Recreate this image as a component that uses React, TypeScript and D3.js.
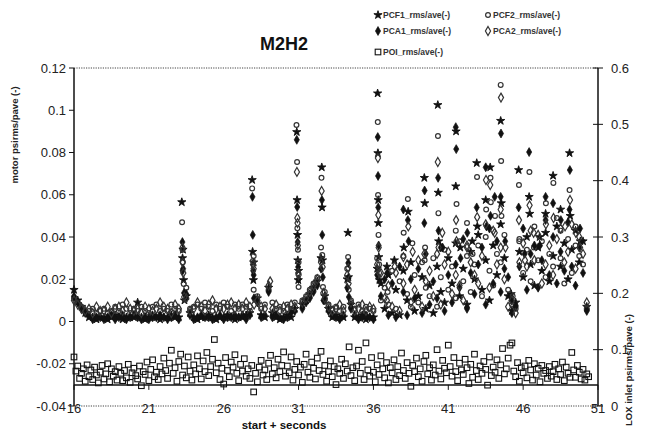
import React from 'react';
import * as d3 from 'd3';

// motor series sampled every 0.25 s from t = 16 s
const T0 = 16;
const DT = 0.25;

const pcf1Base = [
  .015, .010, .007, .004, // 16
  .002, .002, .001, .002, // 17
  .002, .001, .002, .003, // 18
  .002, .001, .002, .002, // 19
  .002, .009, .002, .001, // 20
  .002, .003, .002, .001, // 21
  .002, .002, .003, .002, // 22
  .002, .030, .012, .004, // 23
  .002, .001, .002, .002, // 24
  .003, .002, .001, .002, // 25
  .002, .003, .002, .001, // 26
  .002, .002, .003, .004, // 27
  .028, .011, .003, .002, // 28
  .016, .004, .002, .001, // 29
  .002, .003, .002, .006, // 30
  .024, .008, .010, .013, // 31
  .016, .019, .030, .012, // 32
  .006, .002, .003, .002, // 33
  .002, .020, .008, .002, // 34
  .002, .003, .001, .002, // 35
  .002, .025, .018, .006, // 36
  .022, .004, .015, .003, // 37
  .024, .010, .028, .005, // 38
  .012, .021, .006, .017, // 39
  .004, .026, .014, .009, // 40
  .030, .018, .037, .012, // 41
  .025, .008, .033, .020, // 42
  .041, .015, .029, .010, // 43
  .036, .022, .046, .030, // 44
  .012, .005, .009, .033, // 45
  .021, .040, .027, .017, // 46
  .035, .024, .042, .019, // 47
  .031, .045, .026, .037, // 48
  .020, .034, .043, .028, // 49
  .038, .007,             // 50
];

const pcf2Base = [
  .011, .009, .007, .005, // 16
  .005, .006, .004, .005, // 17
  .006, .004, .005, .007, // 18
  .005, .008, .006, .004, // 19
  .006, .005, .007, .005, // 20
  .004, .007, .008, .005, // 21
  .006, .005, .008, .006, // 22
  .005, .034, .016, .006, // 23
  .007, .008, .006, .009, // 24
  .007, .005, .008, .006, // 25
  .009, .007, .005, .008, // 26
  .006, .008, .007, .005, // 27
  .031, .012, .006, .008, // 28
  .015, .009, .006, .007, // 29
  .005, .008, .006, .009, // 30
  .028, .010, .012, .015, // 31
  .018, .021, .035, .014, // 32
  .008, .006, .007, .005, // 33
  .007, .025, .010, .006, // 34
  .008, .005, .007, .006, // 35
  .005, .030, .010, .016, // 36
  .008, .024, .006, .019, // 37
  .031, .013, .007, .022, // 38
  .009, .028, .016, .012, // 39
  .030, .007, .021, .034, // 40
  .015, .026, .011, .038, // 41
  .019, .031, .014, .027, // 42
  .036, .012, .040, .024, // 43
  .017, .032, .028, .041, // 44
  .015, .008, .006, .039, // 45
  .023, .034, .019, .045, // 46
  .029, .038, .021, .032, // 47
  .026, .049, .030, .018, // 48
  .039, .023, .036, .031, // 49
  .027, .006,             // 50
];

const pca1Base = [
  .012, .009, .006, .004, // 16
  .003, .001, .002, .002, // 17
  .001, .002, .003, .001, // 18
  .002, .003, .001, .002, // 19
  .003, .002, .001, .002, // 20
  .001, .002, .002, .003, // 21
  .002, .001, .002, .003, // 22
  .001, .024, .013, .003, // 23
  .001, .002, .003, .002, // 24
  .002, .001, .002, .003, // 25
  .001, .002, .002, .003, // 26
  .002, .003, .001, .003, // 27
  .022, .009, .002, .003, // 28
  .014, .002, .003, .002, // 29
  .001, .002, .004, .005, // 30
  .020, .006, .009, .011, // 31
  .014, .017, .025, .010, // 32
  .005, .003, .002, .001, // 33
  .003, .016, .006, .003, // 34
  .001, .002, .003, .002, // 35
  .001, .022, .012, .020, // 36
  .003, .018, .002, .026, // 37
  .014, .003, .020, .011, // 38
  .025, .004, .032, .008, // 39
  .019, .011, .035, .005, // 40
  .022, .009, .027, .016, // 41
  .039, .006, .023, .013, // 42
  .027, .035, .008, .044, // 43
  .018, .038, .014, .025, // 44
  .021, .004, .007, .026, // 45
  .044, .015, .032, .036, // 46
  .016, .029, .048, .022, // 47
  .040, .018, .033, .024, // 48
  .047, .026, .017, .035, // 49
  .023, .005,             // 50
];

const pca2Base = [
  .010, .008, .006, .005, // 16
  .006, .004, .007, .005, // 17
  .005, .007, .004, .006, // 18
  .007, .005, .009, .006, // 19
  .005, .006, .004, .007, // 20
  .006, .005, .006, .009, // 21
  .007, .006, .004, .008, // 22
  .006, .028, .011, .005, // 23
  .006, .009, .007, .005, // 24
  .008, .010, .006, .007, // 25
  .006, .008, .009, .006, // 26
  .008, .006, .009, .007, // 27
  .025, .010, .007, .006, // 28
  .017, .006, .008, .005, // 29
  .007, .006, .008, .007, // 30
  .022, .009, .011, .014, // 31
  .017, .020, .028, .011, // 32
  .007, .005, .006, .008, // 33
  .005, .022, .009, .005, // 34
  .006, .008, .005, .007, // 35
  .006, .027, .023, .011, // 36
  .017, .007, .023, .005, // 37
  .018, .027, .009, .015, // 38
  .029, .007, .019, .024, // 39
  .012, .032, .008, .027, // 40
  .033, .013, .022, .017, // 41
  .010, .036, .028, .022, // 42
  .018, .031, .046, .016, // 43
  .043, .027, .035, .020, // 44
  .007, .010, .004, .028, // 45
  .037, .026, .043, .029, // 46
  .041, .018, .027, .036, // 47
  .022, .039, .044, .028, // 48
  .033, .046, .025, .040, // 49
  .032, .009,             // 50
];

// extra readings inside the short bursts (time s, value)
const pcf1Peaks: [number, number][] = [
  [23.2, .0565], [23.28, .034], [23.32, .0196], [23.38, .010],
  [27.9, .067], [27.93, .033], [27.98, .0196],
  [30.88, .0897], [30.9, .0575], [30.93, .041], [30.95, .029], [30.98, .0196],
  [32.55, .073], [32.57, .054], [32.6, .029],
  [34.3, .042], [34.33, .021],
  [36.28, .108], [36.3, .0797], [36.32, .0575], [36.33, .0466], [36.36, .0305], [36.4, .0196],
  [36.9, .026], [37.4, .029], [38.03, .035], [38.32, .052],
  [39.4, .068], [39.43, .056], [40.3, .1025], [40.33, .061], [40.36, .038],
  [41.52, .090], [41.5, .064], [41.8, .035], [42.6, .038], [42.9, .075], [42.94, .045],
  [43.5, .0575], [43.8, .073], [44.5, .095], [44.54, .056], [45.2, .013],
  [45.7, .0717], [46.4, .059], [46.44, .051], [47.1, .040], [47.5, .051],
  [48.0, .069], [48.5, .053], [49.1, .0797], [49.14, .050], [49.82, .038],
];

const pcf2Peaks: [number, number][] = [
  [23.22, .047], [23.27, .028], [23.33, .0178],
  [27.9, .063], [27.95, .0286], [28.0, .015],
  [30.86, .093], [30.9, .0755], [30.92, .0442], [30.96, .034], [31.0, .0163],
  [32.53, .068], [32.58, .0315], [32.63, .0163],
  [34.31, .0305], [34.35, .015],
  [36.29, .0944], [36.31, .0599], [36.34, .041], [36.38, .027],
  [36.95, .014], [38.02, .042], [38.3, .058], [38.6, .037],
  [39.45, .035], [39.42, .029], [40.31, .0878], [40.34, .0513],
  [41.55, .0556], [41.5, .043], [42.25, .0466], [42.62, .032], [42.92, .0684],
  [43.53, .053], [43.82, .068], [43.84, .0565], [44.12, .050],
  [44.5, .112], [44.53, .076], [44.55, .050], [45.3, .012],
  [45.72, .0646], [45.74, .038], [46.42, .0708], [46.72, .035], [47.52, .056],
  [48.02, .0656], [48.5, .043], [49.1, .0622], [49.5, .045],
];

const pca1Peaks: [number, number][] = [
  [23.24, .0376], [23.29, .025], [23.35, .0135],
  [27.92, .059], [27.94, .041], [27.97, .024], [28.02, .011],
  [30.88, .086], [30.91, .0542], [30.94, .0376], [30.97, .0258],
  [32.56, .0575], [32.58, .041], [32.62, .021], [32.66, .010],
  [34.32, .0277], [34.36, .0116],
  [36.29, .0873], [36.31, .0689], [36.32, .054], [36.35, .036],
  [36.92, .023], [38.0, .053], [38.3, .048], [38.35, .038],
  [39.42, .062], [39.4, .0466], [40.32, .068], [40.35, .043], [40.62, .035],
  [41.5, .092], [41.53, .0816], [41.82, .030], [42.27, .042], [42.9, .054],
  [43.5, .073], [43.55, .045], [43.82, .050], [44.1, .059],
  [44.52, .089], [44.5, .059], [44.8, .038], [45.22, .010],
  [45.7, .054], [46.1, .032], [46.4, .0802], [47.12, .036], [47.5, .059],
  [48.0, .056], [48.52, .048], [49.12, .0717], [49.1, .053], [49.8, .044],
];

const pca2Peaks: [number, number][] = [
  [23.25, .035], [23.3, .023], [23.36, .0116],
  [27.96, .027], [28.03, .008], [29.1, .019],
  [30.89, .0708], [30.92, .049], [30.93, .0466], [30.95, .036], [30.98, .023],
  [32.54, .0618], [32.61, .0258], [32.65, .0135],
  [34.32, .0253], [34.34, .018],
  [36.3, .0774], [36.33, .0504], [36.35, .035], [36.39, .023],
  [36.9, .010], [37.42, .026], [38.0, .0305], [38.33, .045], [38.62, .033],
  [39.4, .032], [40.3, .0755], [40.35, .035], [40.6, .042],
  [41.52, .048], [41.55, .038], [42.25, .035], [42.93, .0494],
  [43.52, .067], [43.8, .0646], [44.1, .042], [44.52, .106], [44.5, .053], [44.82, .035],
  [45.72, .048], [46.12, .029], [46.43, .055], [46.7, .042], [47.52, .046],
  [48.03, .049], [48.8, .045], [49.13, .0575], [49.52, .042], [49.8, .035],
];

// LOX inlet series, sampled every 0.125 s from t = 16 s (right axis)
const POI_T0 = 16;
const POI_DT = 0.125;
const poi = [
  .087, .062, .071, .049, .058, .066, .044, .073, // 16
  .052, .064, .047, .069, .055, .041, .060, .072, // 17
  .048, .057, .075, .043, .066, .053, .061, .046, // 18
  .070, .058, .045, .063, .050, .074, .042, .059, // 19
  .067, .054, .048, .071, .036, .061, .056, .078, // 20
  .045, .065, .082, .052, .060, .047, .070, .057, // 21
  .085, .063, .049, .076, .099, .058, .068, .044, // 22
  .079, .092, .055, .071, .050, .087, .062, .046, // 23
  .073, .057, .089, .066, .048, .080, .061, .095, // 24
  .054, .070, .083, .118, .059, .076, .047, .067, // 25
  .039, .086, .063, .052, .078, .069, .091, .058, // 26
  .045, .074, .062, .084, .053, .066, .049, .072, // 27
  .025, .058, .043, .069, .081, .055, .064, .047, // 28
  .076, .090, .057, .068, .050, .083, .061, .072, // 29
  .096, .053, .071, .059, .087, .046, .065, .079, // 30
  .055, .069, .042, .074, .092, .060, .051, .078, // 31
  .067, .048, .085, .063, .097, .056, .072, .044, // 32
  .061, .080, .052, .070, .038, .066, .058, .083, // 33
  .049, .075, .062, .105, .054, .068, .045, .071, // 34
  .099, .058, .079, .047, .112, .064, .053, .086, // 35
  .060, .043, .073, .056, .089, .066, .050, .077, // 36
  .041, .068, .059, .082, .047, .070, .054, .094, // 37
  .063, .049, .077, .058, .035, .072, .061, .085, // 38
  .052, .066, .044, .079, .090, .057, .068, .046, // 39
  .073, .055, .100, .062, .048, .081, .067, .059, // 40
  .108, .070, .053, .086, .061, .045, .076, .064, // 41
  .056, .083, .068, .040, .074, .051, .092, .063, // 42
  .047, .071, .058, .079, .065, .037, .087, .054, // 43
  .069, .060, .082, .049, .073, .102, .057, .066, // 44
  .085, .108, .112, .062, .052, .077, .044, .068, // 45
  .059, .071, .050, .081, .064, .046, .075, .055, // 46
  .067, .043, .072, .058, .063, .049, .070, .053, // 47
  .061, .074, .047, .066, .056, .078, .045, .069, // 48
  .058, .051, .095, .064, .051, .072, .060, .048, // 49
  .065, .046, .057, .052,                         // 50
];

const xTicks = [16, 21, 26, 31, 36, 41, 46, 51];
const yLeftTicks = [0.12, 0.1, 0.08, 0.06, 0.04, 0.02, 0, -0.02, -0.04];
const yLeftLabels = ['0.12', '0.1', '0.08', '0.06', '0.04', '0.02', '0', '-0.02', '-0.04'];
const yRightTicks = [0.6, 0.5, 0.4, 0.3, 0.2, 0.1, 0];
const yRightLabels = ['0.6', '0.5', '0.4', '0.3', '0.2', '0.1', '0'];
const seriesNames = ['PCF1_rms/ave(-)', 'PCF2_rms/ave(-)', 'PCA1_rms/ave(-)', 'PCA2_rms/ave(-)', 'POI_rms/ave(-)'];
const AXIS_CROSS = -0.03;

const FONT = '"Liberation Sans", Arial, sans-serif';

type Pt = [number, number];
const combine = (base: number[], peaks: Pt[]): Pt[] => [
  ...base.map((v, i) => [T0 + i * DT, v] as Pt),
  ...peaks,
];

const starPath = d3.symbol().type(d3.symbolStar).size(21)()!;
const diamondPath = d3.symbol().type(d3.symbolDiamond).size(23)()!;

function Marker({ kind, x, y }: { kind: number; x: number; y: number }) {
  const t = `translate(${x},${y})`;
  if (kind === 0) return <path d={starPath} transform={t} fill="#111" stroke="#111" strokeWidth={0.9} />;
  if (kind === 1) return <circle cx={x} cy={y} r={2.4} fill="none" stroke="#333" strokeWidth={1.2} />;
  if (kind === 2) return <path d={diamondPath} transform={t} fill="#111" stroke="#111" strokeWidth={0.7} />;
  if (kind === 3) return <path d={diamondPath} transform={t} fill="none" stroke="#333" strokeWidth={1.2} />;
  return <rect x={x - 2.8} y={y - 2.8} width={5.6} height={5.6} fill="none" stroke="#111" strokeWidth={1.1} />;
}

export default function App() {
  const W = 646;
  const H = 435;
  const left = 74, right = 598, top = 68, bottom = 406;
  const x = d3.scaleLinear().domain([16, 51]).range([left, right]);
  const yL = d3.scaleLinear().domain([-0.04, 0.12]).range([bottom, top]);
  const yR = d3.scaleLinear().domain([0, 0.6]).range([bottom, top]);

  const motor: Pt[][] = [
    combine(pcf1Base, pcf1Peaks),
    combine(pcf2Base, pcf2Peaks),
    combine(pca1Base, pca1Peaks),
    combine(pca2Base, pca2Peaks),
  ];
  const poiPts: Pt[] = poi.map((v, i) => [POI_T0 + i * POI_DT, v]);

  const legendPos = [
    [378, 15], [488, 15], [378, 31], [488, 31], [378, 52],
  ];

  return (
    <svg width={W} height={H} style={{ position: 'absolute', left: 0, top: 0, background: '#fff' }} fontFamily={FONT}>
      <rect x={0} y={0} width={W} height={H} fill="#fff" />
      {/* title */}
      <text x={284} y={50} textAnchor="middle" fontSize={18} fontWeight="bold" fill="#111">M2H2</text>

      {/* legend */}
      {seriesNames.map((n, i) => (
        <g key={n}>
          <Marker kind={i} x={legendPos[i][0]} y={legendPos[i][1]} />
          <text x={legendPos[i][0] + 5} y={legendPos[i][1] + 3} fontSize={8.5} fontWeight="bold" fill="#333">{n}</text>
        </g>
      ))}

      {/* frame */}
      <line x1={left} x2={right} y1={top} y2={top} stroke="#444" strokeWidth={1} strokeDasharray="1.2,1.2" />
      <line x1={left} x2={right} y1={bottom} y2={bottom} stroke="#444" strokeWidth={1} strokeDasharray="1.2,1.2" />
      <line x1={left} x2={left} y1={top} y2={bottom} stroke="#111" strokeWidth={1.5} />
      <line x1={right} x2={right} y1={top} y2={bottom} stroke="#111" strokeWidth={1.5} />
      <line x1={left} x2={right} y1={yL(AXIS_CROSS)} y2={yL(AXIS_CROSS)} stroke="#111" strokeWidth={1.5} />
      {xTicks.map((t) => (
        <line key={'xt' + t} x1={x(t)} x2={x(t)} y1={yL(AXIS_CROSS)} y2={yL(AXIS_CROSS) + 5} stroke="#111" strokeWidth={1} />
      ))}

      {/* left axis */}
      {yLeftTicks.map((v, i) => (
        <g key={'yl' + i}>
          <line x1={left - 5} x2={left} y1={yL(v)} y2={yL(v)} stroke="#111" strokeWidth={1} />
          <text x={left - 8} y={yL(v)} dy="0.36em" textAnchor="end" fontSize={13} fill="#222">{yLeftLabels[i]}</text>
        </g>
      ))}
      {/* right axis */}
      {yRightTicks.map((v, i) => (
        <g key={'yr' + i}>
          <line x1={right - 5} x2={right + 5} y1={yR(v)} y2={yR(v)} stroke="#111" strokeWidth={1} />
          <text x={right + 13} y={yR(v)} dy="0.36em" textAnchor="start" fontSize={13} fill="#222">{yRightLabels[i]}</text>
        </g>
      ))}
      {/* x labels */}
      {xTicks.map((t) => (
        <text key={'xl' + t} x={x(t)} y={bottom + 2} dy="0.36em" textAnchor="middle" fontSize={13} fill="#222">{t}</text>
      ))}

      {/* axis titles */}
      <text x={284} y={429} textAnchor="middle" fontSize={11.5} fontWeight="bold" fill="#111">start + seconds</text>
      <text transform={`translate(18,135) rotate(-90)`} textAnchor="middle" fontSize={9.5} fontWeight="bold" fill="#222">motor psirms/pave (-)</text>
      <text transform={`translate(632,370) rotate(-90)`} textAnchor="middle" fontSize={9.5} fontWeight="bold" fill="#222">LOX inlet psirms/pave (-)</text>

      {/* data */}
      <g>
        {poiPts.map(([t, v], i) => (
          <Marker key={'p' + i} kind={4} x={x(t)} y={yR(v)} />
        ))}
      </g>
      {motor.map((pts, s) => (
        <g key={'s' + s}>
          {pts.map(([t, v], i) => (
            <Marker key={i} kind={s} x={x(t)} y={yL(v)} />
          ))}
        </g>
      ))}
    </svg>
  );
}
